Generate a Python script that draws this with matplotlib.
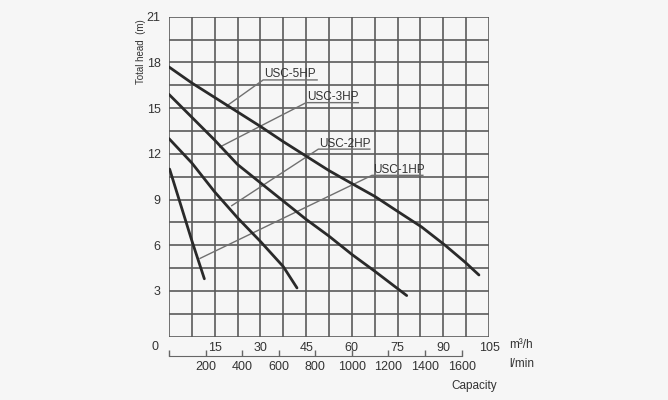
import numpy as np
import matplotlib
matplotlib.use("Agg")
import matplotlib.pyplot as plt

plt.rcParams['font.family'] = ['Liberation Sans', 'DejaVu Sans']

# pump curves: capacity (m3/h) vs total head (m)
q_5hp = [0, 7.5, 15, 22.5, 30, 37.5, 45, 52.5, 60, 67.6, 75.2, 82.9, 90.6, 97.1, 101.7]
h_5hp = [17.7, 16.65, 15.7, 14.75, 13.8, 12.8, 11.85, 10.9, 10.05, 9.2, 8.2, 7.2, 6.0, 4.9, 4.05]

q_3hp = [0, 7.5, 15, 22.5, 30, 37.5, 45, 52.5, 60, 67.5, 78]
h_3hp = [15.9, 14.4, 12.9, 11.3, 10.1, 8.9, 7.7, 6.6, 5.4, 4.3, 2.7]

q_2hp = [0, 7.5, 15, 22.5, 30, 37.5, 42]
h_2hp = [13.0, 11.4, 9.5, 7.8, 6.25, 4.6, 3.2]

q_1hp = [0.2, 7.5, 11.6]
h_1hp = [11.0, 6.3, 3.8]

names = ["USC-5HP", "USC-3HP", "USC-2HP", "USC-1HP"]
# leader line: point on curve -> start of underline, underline end
lead_from = [(18.9, 15.14), (16.7, 12.45), (20.6, 8.6), (10.2, 5.14)]
lead_to = [(30.9, 16.85), (45.0, 15.36), (49.0, 12.31), (66.6, 10.59)]
lead_end = [48.6, 62.1, 65.9, 83.3]

y_ticks = [3, 6, 9, 12, 15, 18, 21]
x_ticks = [15, 30, 45, 60, 75, 90, 105]
lmin_ticks = [0, 200, 400, 600, 800, 1000, 1200, 1400, 1600]

bg = "#f6f6f6"
fig = plt.figure(figsize=(6.68, 4.0), dpi=100, facecolor=bg)
ax = fig.add_axes([169/668, 1-336.7/400, 320/668, 320/400])
ax.set_facecolor(bg)

ax.set_xlim(0, 105)
ax.set_ylim(0, 21)

# grid every 7.5 m3/h and 1.5 m
for gx in np.arange(0, 105.1, 7.5):
    ax.axvline(gx, color="#5a5a5a", lw=1.2, zorder=1)
for gy in np.arange(0, 21.1, 1.5):
    ax.axhline(gy, color="#5a5a5a", lw=1.2, zorder=1)
for s in ax.spines.values():
    s.set_visible(False)

for q, h in [(q_5hp, h_5hp), (q_3hp, h_3hp), (q_2hp, h_2hp), (q_1hp, h_1hp)]:
    ax.plot(q, h, color="#2a2a2a", lw=2.0, zorder=3, solid_capstyle="round")

for name, p0, p1, xe in zip(names, lead_from, lead_to, lead_end):
    ax.plot([p0[0], p1[0], xe], [p0[1], p1[1], p1[1]], color="#707070", lw=1.0, zorder=2)
    ax.text(p1[0] + 0.3, p1[1] + 0.17, name, fontsize=8.5, color="#333333",
            ha="left", va="baseline", zorder=4)

ax.set_yticks(y_ticks)
ax.set_xticks(x_ticks)
ax.tick_params(axis="both", length=0, labelsize=9, labelcolor="#333333")
ax.tick_params(axis="y", pad=6)
ax.tick_params(axis="x", pad=4)
ax.text(-4.5, -0.25, "0", fontsize=9, color="#333333", ha="center", va="top")

ax.set_ylabel("Total head  (m)", fontsize=7, color="#333333")
ax.yaxis.set_label_coords(-0.072, 0.89)

# second scale in l/min
sec = ax.secondary_xaxis(-0.06, functions=(lambda x: x * 1000 / 60, lambda x: x * 60 / 1000))
sec.set_xticks(lmin_ticks)
sec.set_xticklabels([""] + [str(v) for v in lmin_ticks[1:]])
sec.tick_params(direction="in", length=4, width=1, color="#666666", labelsize=9,
                labelcolor="#333333", pad=4)
sec.spines["bottom"].set_bounds(0, 1600)
sec.spines["bottom"].set_color("#666666")

fig.text(509/668, 1-345/400, "m\u00b3/h", fontsize=8.5, color="#333333", va="center")
fig.text(509/668, 1-364/400, "l/min", fontsize=8.5, color="#333333", va="center")
fig.text(474.5/668, 1-386/400, "Capacity", fontsize=8.5, color="#333333", va="center", ha="center")

fig.savefig("out.png", dpi=100, facecolor=bg)
